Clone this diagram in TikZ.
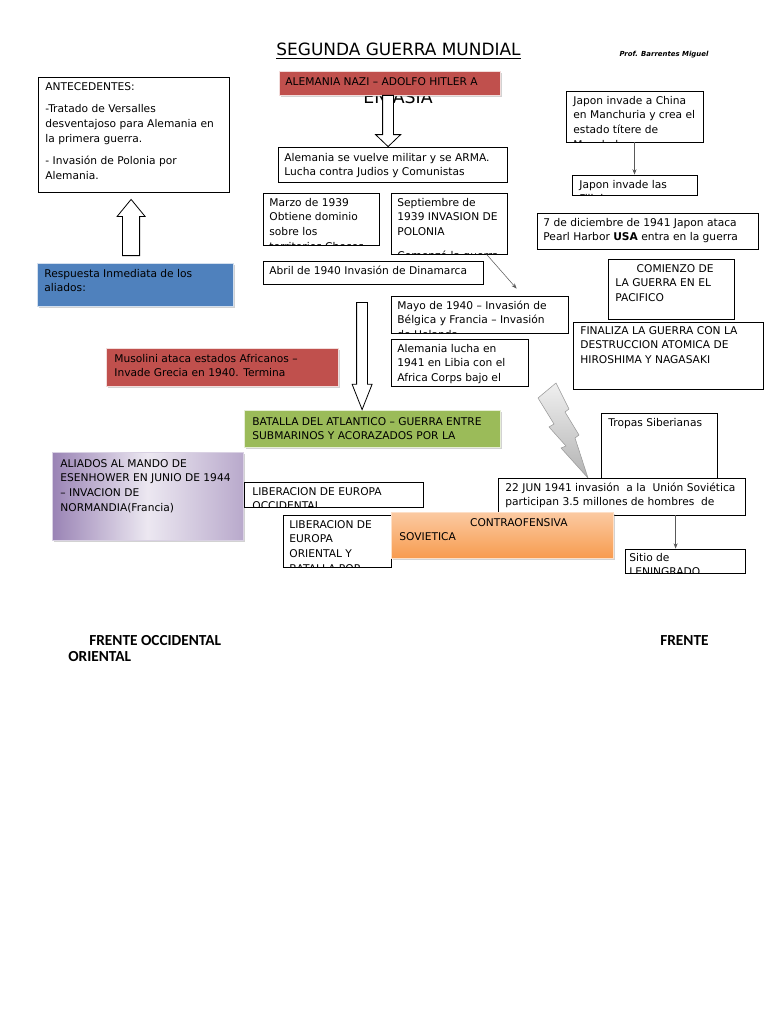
\documentclass[tikz,border=0pt]{standalone}
\usepackage{fontspec}
\setmainfont{DejaVu Sans}
\newfontfamily\carlito{Carlito}
\usetikzlibrary{fit,calc,shadows,arrows.meta}

\definecolor{rojo}{HTML}{C0504D}
\definecolor{azul}{HTML}{4F81BD}
\definecolor{verde}{HTML}{9BBB59}
\definecolor{morado}{HTML}{8064A2}
\definecolor{naranja}{HTML}{F79646}

% flecha hueca vertical: desde, hasta, medio ancho, medio ancho punta, largo punta
\newcommand{\gorda}[5]{%
  \draw[hueca] let \p1=(#1), \p2=(#2), \n1={\y2+sign(\y1-\y2)*#5} in
    (\x1-#3,\y1) -- (\x1-#3,\n1) -- (\x1-#4,\n1) -- (\x1,\y2)
    -- (\x1+#4,\n1) -- (\x1+#3,\n1) -- (\x1+#3,\y1) -- cycle;}

\tikzset{
  caja/.style={draw, line width=0.6pt, fill=white, inner sep=0pt},
  margx/.store in=\margx, margx=6,
  margy/.store in=\margy, margy=4.5,
  texto/.style={text width=, text height=, text depth=, minimum width=0pt, minimum height=0pt,
    draw=none, fill=none, font=\fontsize{8}{10.9}\selectfont, align=left, inner sep=0pt, anchor=north west},
  recorte/.style={path picture={\node[texto] at ([shift={(\margx,\margy)}]path picture bounding box.north west) {\rule{0pt}{6.4pt}#1};}},
  sombra/.style={drop shadow={shadow xshift=1.4pt, shadow yshift=-1.4pt, opacity=0.35}},
  fina/.style={draw=black!65, line width=0.4pt, -{Stealth[length=4pt,width=3pt]}},
  hueca/.style={draw, fill=white, line width=0.6pt},
  rotulo/.style={font=\carlito\bfseries\fontsize{11.5}{13}\selectfont, anchor=base west, inner sep=0pt},
}

\begin{document}
\begin{tikzpicture}[x=0.75pt, y=-0.75pt]
\fill[white] (0,0) rectangle (768,1024);
\useasboundingbox (0,0) rectangle (768,1024);

% titulo
\node[font=\fontsize{12.7}{15}\selectfont, anchor=base] (titulo) at (398.5,56) {\underline{SEGUNDA GUERRA MUNDIAL}};
\node[font=\fontsize{5.2}{6}\selectfont\bfseries\itshape, anchor=base] (prof) at (664,56.5) {Prof. Barrentes Miguel};

% frente occidental
\node[font=\fontsize{13}{15}\selectfont] (enasia) at (398,97) {EN ASIA};
\node[caja, fill=rojo, draw=white!80!rojo, sombra, fit={(279,71) (500,95)}, margy=6,
  recorte={ALEMANIA NAZI – ADOLFO HITLER A}] (nazi) {};
\node[caja, fit={(38,77) (229,192)}, margx=7, margy=4.5,
  recorte={ANTECEDENTES:\\[6pt]-Tratado de Versalles\\desventajoso para Alemania en\\la primera guerra.\\[6pt]- Invasión de Polonia por\\Alemania.}] (antecedentes) {};
\node[caja, fit={(278,147) (507,182)}, margy=5.5,
  recorte={Alemania se vuelve militar y se ARMA.\\Lucha contra Judios y Comunistas}] (militar) {};
\node[caja, fit={(263,193) (379,245)},
  recorte={Marzo de 1939\\Obtiene dominio\\sobre los\\territorios Checos}] (marzo) {};
\node[caja, fit={(391,193) (507,254)},
  recorte={Septiembre de\\1939 INVASION DE\\POLONIA\\[7pt]Comenzó la guerra}] (septiembre) {};
\node[caja, fit={(263,261) (483,284)},
  recorte={Abril de 1940 Invasión de Dinamarca}] (abril) {};
\node[caja, fit={(391,296) (568,333)},
  recorte={Mayo de 1940 – Invasión de\\Bélgica y Francia – Invasión\\de Holanda}] (mayo) {};
\node[caja, fit={(391,339) (528,386)},
  recorte={Alemania lucha en\\1941 en Libia con el\\Africa Corps bajo el\\mando de Rommel}] (libia) {};
\node[caja, fill=azul, draw=white!75!azul, sombra, fit={(37,263) (233,306)}, margx=7, margy=5.5,
  recorte={Respuesta Inmediata de los\\aliados:}] (respuesta) {};
\node[caja, fill=rojo, draw=white!80!rojo, sombra, fit={(106,348) (338,386)}, margx=8, margy=5.5,
  recorte={Musolini ataca estados Africanos –\\Invade Grecia en 1940. Termina}] (musolini) {};
\node[caja, fill=verde, draw=white!75!verde, sombra, fit={(244,410) (500,447)}, margx=8, margy=6.5,
  recorte={BATALLA DEL ATLANTICO – GUERRA ENTRE\\SUBMARINOS Y ACORAZADOS POR LA}] (batalla) {};
\node[caja, draw=white!70!morado, sombra, left color=morado!80, right color=morado!55, middle color=morado!15,
  fit={(52,452) (243,540)}, margx=8, margy=6.5,
  recorte={ALIADOS AL MANDO DE\\ESENHOWER EN JUNIO DE 1944\\– INVACION DE\\NORMANDIA(Francia)}] (aliados) {};
\node[caja, fit={(244,482) (423,507)}, margx=8,
  recorte={LIBERACION DE EUROPA\\OCCIDENTAL}] (occidental) {};

% frente oriental
\node[caja, fit={(566,91) (703,142)}, margx=7,
  recorte={Japon invade a China\\en Manchuria y crea el\\estado títere de\\Manchukuo}] (china) {};
\node[caja, fit={(572,175) (697,195)}, margx=7,
  recorte={Japon invade las\\Filipinas}] (filipinas) {};
\node[caja, fit={(537,213) (758,249)},
  recorte={7 de diciembre de 1941 Japon ataca\\Pearl Harbor \textbf{USA} entra en la guerra}] (pearl) {};
\node[caja, fit={(608,259) (734,319)}, margx=7,
  recorte={\hspace*{16pt}COMIENZO DE\\LA GUERRA EN EL\\PACIFICO}] (pacifico) {};
\node[caja, fit={(573,322) (763,389)}, margx=7, margy=3.5,
  recorte={FINALIZA LA GUERRA CON LA\\DESTRUCCION ATOMICA DE\\HIROSHIMA Y NAGASAKI}] (final) {};
\node[caja, fit={(601,413) (717,480)}, margx=7,
  recorte={Tropas Siberianas}] (siberia) {};
\node[caja, fit={(498,478) (745,515)}, margx=7,
  recorte={22 JUN 1941 invasión \ a la \ Unión Soviética\\participan 3.5 millones de hombres \ de}] (junio) {};
\node[caja, fit={(625,549) (745,573)}, margx=4, margy=3.5,
  recorte={Sitio de\\LENINGRADO}] (leningrado) {};
\node[caja, fit={(283,515) (391,567)},
  recorte={LIBERACION DE\\EUROPA\\ORIENTAL Y\\BATALLA POR}] (oriental) {};
\node[caja, draw=white!70!naranja, sombra, top color=naranja!50, bottom color=naranja!95,
  fit={(391,512) (613,558)}, margx=8, margy=5.5,
  recorte={\hspace*{53pt}CONTRAOFENSIVA\\SOVIETICA}] (contra) {};

% flechas huecas
\gorda{$(nazi.south west)+(109.5,0)$}{$(militar.north west)+(110.5,0)$}{4.1pt}{9.4pt}{9pt}
\gorda{$(respuesta.north west)+(94.5,-7)$}{$(antecedentes.south west)+(93.5,7)$}{6.4pt}{10.5pt}{12.8pt}
\gorda{$(abril.south west)+(99.5,18)$}{$(batalla.north west)+(118.5,0)$}{4.1pt}{7.5pt}{19pt}

% flechas finas
\draw[fina] (china.south) -- (filipinas.north);
\draw[fina] ($(septiembre.south west)+(96,0)$) -- ($(mayo.north west)+(126,-7)$);
\coordinate (sitio) at ($(leningrado.north west)+(51,0)$);
\draw[fina] (junio.south -| sitio) -- (sitio);

% rayo
\shade[draw=gray!80, top color=gray!12, bottom color=gray!60, line join=round]
  (556,383) -- (538,398) -- (554,424) -- (549,427) -- (566,446) -- (561,448)
  -- (588,478) -- (575,438) -- (579,435) -- (565,412) -- (569,409) -- cycle;

% rotulos
\node[rotulo] (frenteoc) at (89,645.5) {FRENTE OCCIDENTAL};
\node[rotulo] (frenteor) at (660,645.5) {FRENTE};
\node[rotulo] (oriental2) at (68,661.5) {ORIENTAL};
\end{tikzpicture}
\end{document}
